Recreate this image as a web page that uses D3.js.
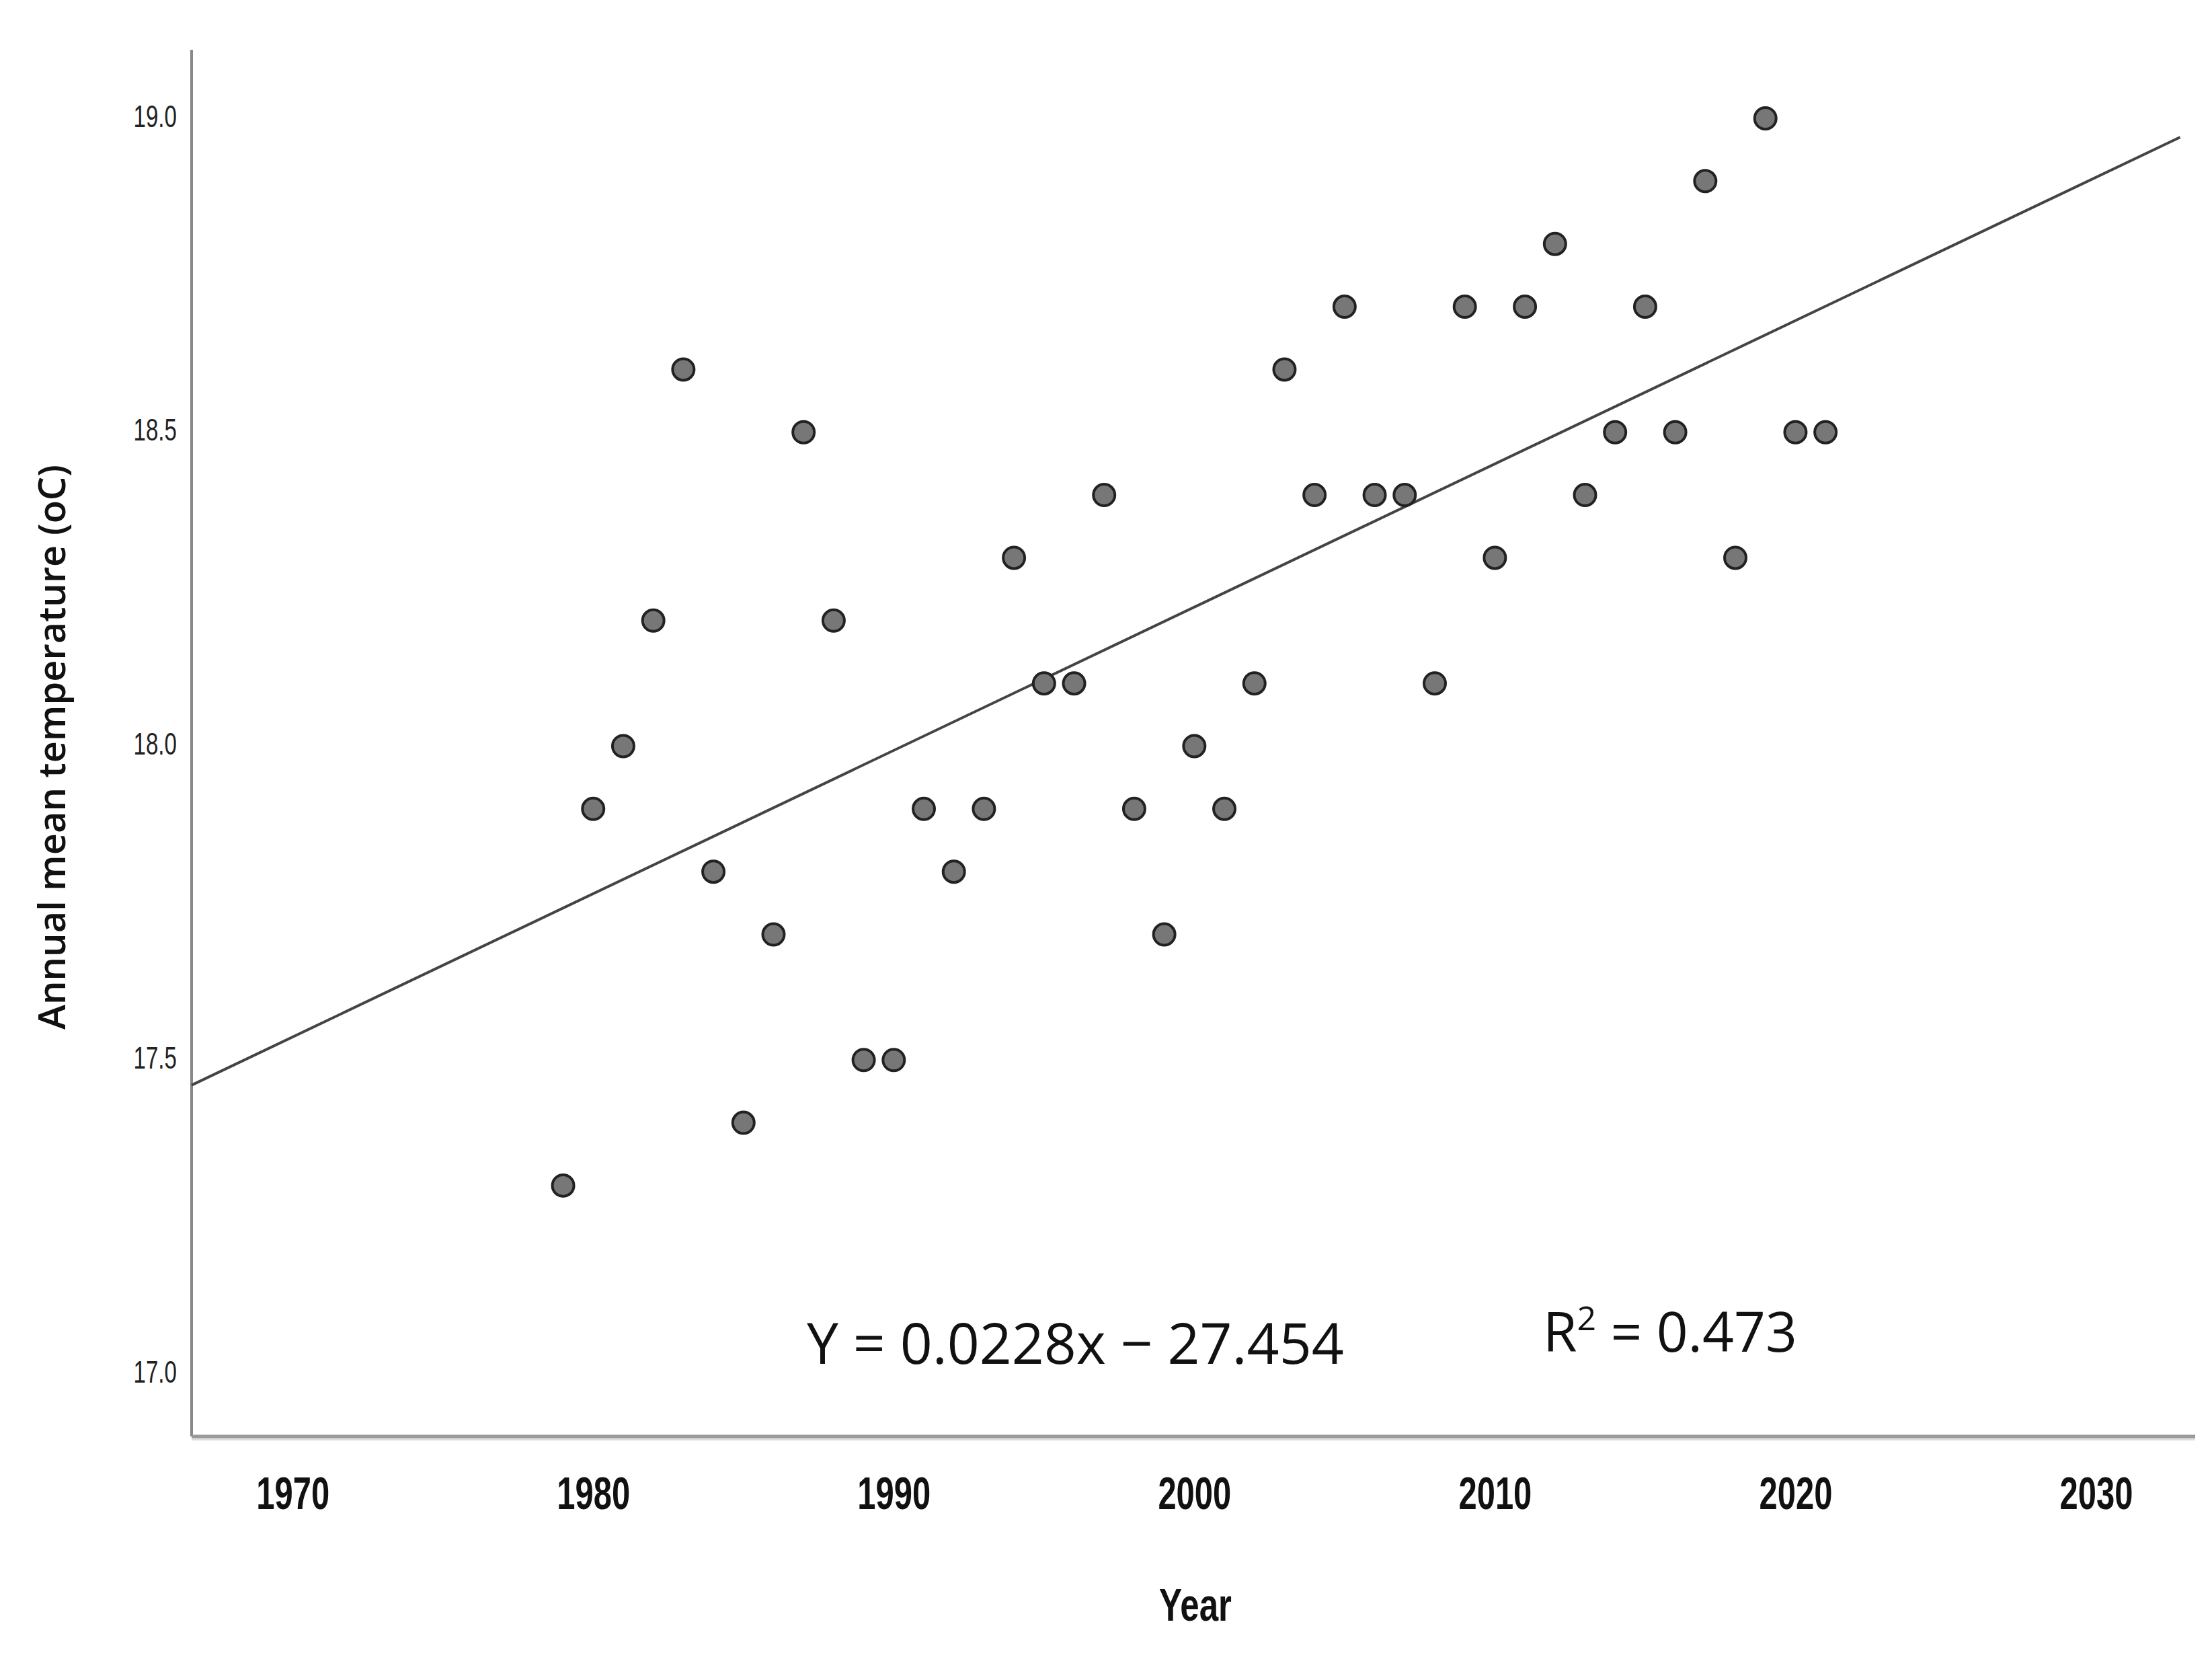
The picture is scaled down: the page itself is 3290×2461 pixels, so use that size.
<!DOCTYPE html>
<html><head><meta charset="utf-8">
<script src="https://cdn.jsdelivr.net/npm/d3@7"></script>
<style>body{margin:0;background:#fff}</style></head>
<body><svg id="c" width="3290" height="2461"></svg>
<script>
const years=[1979,1980,1981,1982,1983,1984,1985,1986,1987,1988,1989,1990,1991,1992,1993,1994,1995,1996,1997,1998,1999,2000,2001,2002,2003,2004,2005,2006,2007,2008,2009,2010,2011,2012,2013,2014,2015,2016,2017,2018,2019,2020,2021];
const temps=[17.3,17.9,18.0,18.2,18.6,17.8,17.4,17.7,18.5,18.2,17.5,17.5,17.9,17.8,17.9,18.3,18.1,18.1,18.4,17.9,17.7,18.0,17.9,18.1,18.6,18.4,18.7,18.4,18.4,18.1,18.7,18.3,18.7,18.8,18.4,18.5,18.7,18.5,18.9,18.3,19.0,18.5,18.5];
const fitYears=[1966.64,2032.8];
const fitTemps=[17.46,18.97];
const xTicks=[1970,1980,1990,2000,2010,2020,2030];
const yTicks=[17.0,17.5,18.0,18.5,19.0];

const svg=d3.select("#c");
const x=d3.scaleLinear().domain([1966.64,2033.3]).range([285,3265]);
const y=d3.scaleLinear().domain([17.0,19.0]).range([2043,176]);
const yTop=y.invert(74), yBot=y.invert(2136);

svg.append("line").attr("x1",x(1966.64)).attr("x2",x(1966.64)).attr("y1",y(yTop)).attr("y2",y(yBot)).attr("stroke","#888").attr("stroke-width",4);
svg.append("line").attr("x1",x(1966.64)).attr("x2",x(2033.3)).attr("y1",y(yBot)+3).attr("y2",y(yBot)+3).attr("stroke","#ddd").attr("stroke-width",6);
svg.append("line").attr("x1",x(1966.64)).attr("x2",x(2033.3)).attr("y1",y(yBot)).attr("y2",y(yBot)).attr("stroke","#999").attr("stroke-width",5);

const xa=svg.append("g").attr("transform",`translate(0,${y(yBot)})`)
 .call(d3.axisBottom(x).tickValues(xTicks).tickFormat(d3.format("d")).tickSize(0).tickPadding(0));
xa.select(".domain").remove();
xa.selectAll("text").attr("y",0).attr("dy",0).attr("transform","translate(0,90) scale(0.72,1)")
 .attr("font-family","Liberation Sans, Arial").attr("font-weight","bold").attr("font-size",68).attr("fill","#111").attr("text-anchor","middle").attr("dominant-baseline","middle");

const ya=svg.append("g").attr("transform",`translate(${x(1966.64)},0)`)
 .call(d3.axisLeft(y).tickValues(yTicks).tickFormat(d3.format(".1f")).tickSize(0).tickPadding(0));
ya.select(".domain").remove();
ya.selectAll("text").attr("x",0).attr("dy",0).attr("transform","translate(-22,0) scale(0.72,1)")
 .attr("font-family","Liberation Sans, Arial").attr("font-size",46).attr("fill","#222").attr("text-anchor","end").attr("dominant-baseline","middle");

svg.append("path").datum(fitYears.map((v,i)=>[v,fitTemps[i]]))
 .attr("d",d3.line().x(d=>x(d[0])).y(d=>y(d[1]))).attr("stroke","#444").attr("stroke-width",4).attr("fill","none");

svg.append("g").selectAll("circle").data(years.map((v,i)=>[v,temps[i]])).join("circle")
 .attr("cx",d=>x(d[0])).attr("cy",d=>y(d[1])).attr("r",16)
 .attr("fill","#777").attr("stroke","#222").attr("stroke-width",4);

svg.append("text").attr("transform","translate(97,1111) rotate(-90)").attr("text-anchor","middle")
 .attr("font-family","Open Sans, DejaVu Sans").attr("font-weight","600").attr("font-size",56).attr("fill","#111").text("Annual mean temperature (oC)");
svg.append("text").attr("transform","translate(1778,2410) scale(0.75,1)").attr("text-anchor","middle")
 .attr("font-family","Liberation Sans, Arial").attr("font-weight","bold").attr("font-size",68).attr("fill","#111").text("Year");
svg.append("text").attr("x",1200).attr("y",2028).attr("font-family","Open Sans, DejaVu Sans").attr("font-size",84).attr("fill","#111").text("Y = 0.0228x − 27.454");
const r=svg.append("text").attr("x",2295).attr("y",2010).attr("font-family","Open Sans, DejaVu Sans").attr("font-size",82).attr("fill","#111");
r.append("tspan").text("R");
r.append("tspan").attr("font-size",50).attr("dy",-32).text("2");
r.append("tspan").attr("dy",32).text(" = 0.473");
</script></body></html>
